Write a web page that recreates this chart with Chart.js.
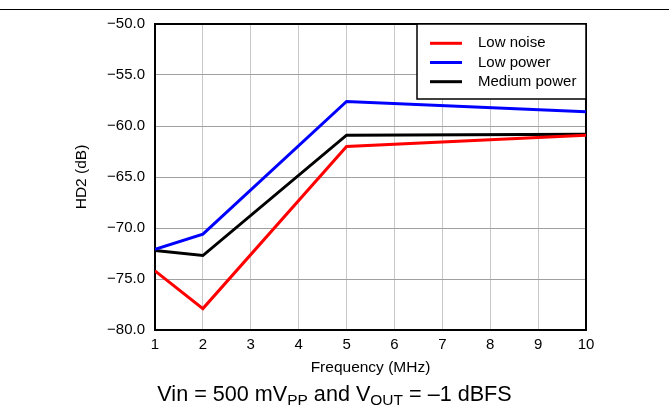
<!DOCTYPE html>
<html>
<head>
<meta charset="utf-8">
<script src="https://cdn.jsdelivr.net/npm/chart.js@4"></script>
<style>
  html, body { margin: 0; padding: 0; background: #fff; }
  #wrap { position: relative; width: 669px; height: 419px; font-family: "Liberation Sans", Arial, sans-serif; }
  #rule { position: absolute; left: 0; top: 9px; width: 669px; height: 1px; background: #000; }
  #cap { position: absolute; left: 0; width: 669px; top: 382px; text-align: center; font-size: 21.6px; line-height: 24px; color: #000; }
  #cap sub { font-size: 15.5px; vertical-align: -4px; line-height: 0; }
  canvas { position: absolute; left: 0; top: 0; }
</style>
</head>
<body>
<div id="wrap">
  <canvas id="c" width="669" height="419"></canvas>
  <div id="rule"></div>
  <div id="cap">Vin = 500 mV<sub>PP</sub> and V<sub>OUT</sub> = –1 dBFS</div>
</div>
<script>
const frequencies = [1, 2, 5, 10];
const lowNoise = [-74.2, -77.9, -62.0, -60.9];
const lowPower = [-72.1, -70.6, -57.6, -58.6];
const mediumPower = [-72.2, -72.7, -60.9, -60.8];
const seriesNames = ["Low noise", "Low power", "Medium power"];
const seriesColors = ["#ff0000", "#0000ff", "#000000"];
const yTicks = [-80, -75, -70, -65, -60, -55, -50];
const xTicks = [1, 2, 3, 4, 5, 6, 7, 8, 9, 10];

function pts(vals) { return frequencies.map((f, i) => ({ x: f, y: vals[i] })); }

const FONT = "'Liberation Sans', Arial, sans-serif";

const frameAndLegend = {
  id: 'frameAndLegend',
  beforeDatasetsDraw(chart) {
    const { ctx, chartArea: a } = chart;
    ctx.save();
    ctx.strokeStyle = '#000';
    ctx.lineWidth = 2;
    ctx.strokeRect(a.left, a.top, a.right - a.left, a.bottom - a.top);
    ctx.restore();
  },
  afterDatasetsDraw(chart) {
    const { ctx, chartArea: a } = chart;
    const bx = 417, bw = a.right - bx, by = a.top, bh = 75;
    ctx.save();
    ctx.fillStyle = '#fff';
    ctx.fillRect(bx, by, bw, bh);
    ctx.strokeStyle = '#000';
    ctx.lineWidth = 1.5;
    ctx.strokeRect(bx, by, bw, bh);
    ctx.font = '15px ' + FONT;
    ctx.textBaseline = 'middle';
    chart.data.datasets.forEach((ds, i) => {
      const y = by + 19.3 + i * 19.2;
      ctx.strokeStyle = ds.borderColor;
      ctx.lineWidth = 3;
      ctx.beginPath();
      ctx.moveTo(430, y);
      ctx.lineTo(462, y);
      ctx.stroke();
      ctx.fillStyle = '#000';
      ctx.fillText(ds.label, 478, y);
    });
    ctx.restore();
  }
};

new Chart(document.getElementById('c'), {
  type: 'line',
  data: {
    datasets: [
      { label: seriesNames[0], data: pts(lowNoise), borderColor: seriesColors[0] },
      { label: seriesNames[1], data: pts(lowPower), borderColor: seriesColors[1] },
      { label: seriesNames[2], data: pts(mediumPower), borderColor: seriesColors[2] }
    ].map(d => Object.assign(d, { borderWidth: 3, pointRadius: 0, fill: false, tension: 0 }))
  },
  options: {
    responsive: false,
    animation: false,
    layout: { padding: { left: 72, right: 83, top: 24, bottom: 42.4 } },
    plugins: { legend: { display: false }, tooltip: { enabled: false } },
    scales: {
      x: {
        type: 'linear', min: 1, max: 10,
        afterBuildTicks: s => { s.ticks = xTicks.map(v => ({ value: v })); },
        afterFit: s => { s.height = 46.6; },
        grid: { color: '#c8c8c8', lineWidth: 1, drawTicks: false },
        border: { display: false },
        ticks: { color: '#000', font: { size: 15, family: FONT }, padding: 6, maxRotation: 0, autoSkip: false },
        title: { display: true, text: 'Frequency (MHz)', color: '#000', font: { size: 15.5, family: FONT }, padding: { top: 4, bottom: 0 } }
      },
      y: {
        type: 'linear', min: -80, max: -50,
        afterBuildTicks: s => { s.ticks = yTicks.map(v => ({ value: v })); },
        afterFit: s => { s.width = 83; },
        grid: { color: '#a0a0a0', lineWidth: 1, drawTicks: false },
        border: { display: false },
        ticks: { color: '#000', font: { size: 15, family: FONT }, padding: 10,
          callback: v => (v < 0 ? '\u2212' : '') + Math.abs(v).toFixed(1) },
        title: { display: true, text: 'HD2 (dB)', color: '#000', font: { size: 15.5, family: FONT }, padding: { top: 0, bottom: 0 } }
      }
    }
  },
  plugins: [frameAndLegend]
});
</script>
</body>
</html>
